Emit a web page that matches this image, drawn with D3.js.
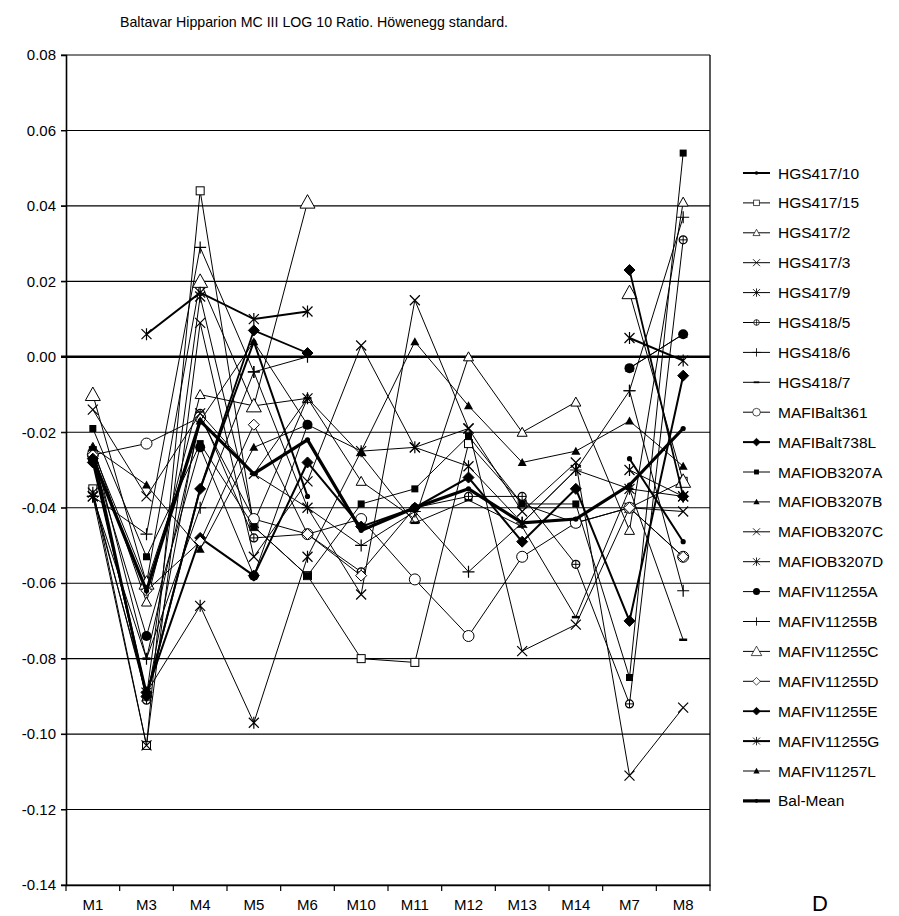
<!DOCTYPE html>
<html>
<head>
<meta charset="utf-8">
<script src="https://cdn.jsdelivr.net/npm/d3@7"></script>
<style>
  body { margin: 0; background: #fff; }
  text { font-family: "Liberation Sans", Arial, sans-serif; fill: #000; }
</style>
</head>
<body>
<svg width="899" height="916"></svg>
<script>
var categories = ["M1", "M3", "M4", "M5", "M6", "M10", "M11", "M12", "M13", "M14", "M7", "M8"];
var yTicks = [0.08, 0.06, 0.04, 0.02, 0.00, -0.02, -0.04, -0.06, -0.08, -0.10, -0.12, -0.14];

var names = ["HGS417/10", "HGS417/15", "HGS417/2", "HGS417/3", "HGS417/9", "HGS418/5", "HGS418/6", "HGS418/7",
  "MAFIBalt361", "MAFIBalt738L", "MAFIOB3207A", "MAFIOB3207B", "MAFIOB3207C", "MAFIOB3207D",
  "MAFIV11255A", "MAFIV11255B", "MAFIV11255C", "MAFIV11255D", "MAFIV11255E", "MAFIV11255G", "MAFIV11257L", "Bal-Mean"];

var HGS417_10 = [-0.025, -0.090, -0.035, 0.004, -0.037, null, null, null, null, null, -0.027, -0.049];
var HGS417_15 = [-0.035, -0.103, 0.044, -0.045, -0.058, -0.080, -0.081, -0.023, -0.039, -0.044, -0.040, -0.033];
var HGS417_2 = [-0.024, -0.065, -0.010, -0.013, -0.011, -0.033, -0.043, 0.000, -0.020, -0.012, -0.046, 0.041];
var HGS417_3 = [-0.037, -0.103, 0.009, -0.053, -0.033, 0.003, -0.024, -0.019, -0.078, -0.071, -0.040, -0.041];
var HGS417_9 = [-0.036, -0.090, 0.016, -0.044, -0.011, null, null, null, null, null, -0.030, -0.037];
var HGS418_5 = [-0.027, -0.091, -0.015, -0.048, -0.047, -0.057, -0.040, -0.037, -0.037, -0.055, -0.092, 0.031];
var HGS418_6 = [-0.037, -0.047, 0.029, -0.004, 0.000, null, null, null, null, null, -0.009, 0.037];
var HGS418_7 = [-0.024, -0.080, -0.017, -0.031, -0.011, -0.026, -0.044, -0.038, -0.045, -0.069, -0.035, -0.075];
var MAFIBalt361 = [-0.026, -0.023, -0.016, -0.043, -0.047, -0.043, -0.059, -0.074, -0.053, -0.044, -0.040, -0.053];
var MAFIBalt738L = [-0.028, -0.089, -0.048, -0.058, -0.028, -0.045, -0.040, -0.032, -0.049, -0.035, -0.070, -0.005];
var MAFIOB3207A = [-0.019, -0.053, -0.023, -0.045, -0.058, -0.039, -0.035, -0.021, -0.039, -0.039, -0.085, 0.054];
var MAFIOB3207B = [-0.025, -0.060, -0.017, 0.004, -0.018, null, null, null, null, null, -0.003, 0.006];
var MAFIOB3207C = [-0.014, -0.037, -0.015, -0.031, -0.040, -0.063, 0.015, -0.019, -0.041, -0.028, -0.111, -0.093];
var MAFIOB3207D = [-0.037, -0.089, -0.066, -0.097, -0.053, -0.025, -0.024, -0.029, -0.044, -0.030, -0.035, -0.037];
var MAFIV11255A = [-0.027, -0.074, -0.024, -0.058, -0.018, null, null, null, null, null, -0.003, 0.006];
var MAFIV11255B = [-0.037, -0.080, -0.040, -0.004, -0.040, -0.050, -0.041, -0.057, -0.044, -0.030, -0.009, -0.062];
var MAFIV11255C = [-0.010, -0.060, 0.020, -0.013, 0.041, null, null, null, null, null, 0.017, -0.033];
var MAFIV11255D = [-0.026, -0.062, -0.049, -0.018, -0.047, -0.058, null, null, null, null, -0.040, -0.053];
var MAFIV11255E = [-0.027, -0.090, -0.035, 0.007, 0.001, null, null, null, null, null, 0.023, -0.037];
var MAFIV11255G = [null, 0.006, 0.017, 0.010, 0.012, null, null, null, null, null, 0.005, -0.001];
var MAFIV11257L = [-0.024, -0.034, -0.051, -0.024, -0.018, -0.025, 0.004, -0.013, -0.028, -0.025, -0.017, -0.029];
var BalMean = [-0.027, -0.062, -0.017, -0.031, -0.022, -0.046, -0.040, -0.035, -0.044, -0.043, -0.034, -0.019];

var values = [HGS417_10, HGS417_15, HGS417_2, HGS417_3, HGS417_9, HGS418_5, HGS418_6, HGS418_7,
  MAFIBalt361, MAFIBalt738L, MAFIOB3207A, MAFIOB3207B, MAFIOB3207C, MAFIOB3207D,
  MAFIV11255A, MAFIV11255B, MAFIV11255C, MAFIV11255D, MAFIV11255E, MAFIV11255G, MAFIV11257L, BalMean];

// marker style and line width per series
var markers = ["dot", "osq", "otri", "x", "ast", "cplus", "plus", "dash",
  "ocirc", "fdia", "fsq", "ftri", "x", "ast",
  "fcirc", "plus", "otriL", "odia", "fdia", "ast", "ftri", "dot"];
var widths = [2, 1, 1, 1, 1, 1, 1, 1, 1, 2, 1, 1, 1, 1, 1, 1, 1, 1, 1.8, 2, 1, 3.2];

var svg = d3.select("svg");
var plotLeft = 66, plotRight = 710, plotTop = 55, plotBottom = 885;

var x = d3.scaleBand().domain(categories).range([plotLeft, plotRight]);
var y = d3.scaleLinear().domain([-0.14, 0.08]).range([plotBottom, plotTop]);
var cx = function(c) { return x(c) + x.bandwidth() / 2; };

// title
svg.append("text")
  .attr("x", 120).attr("y", 27)
  .attr("font-size", 14.2)
  .text("Baltavar Hipparion MC III LOG 10 Ratio. Höwenegg standard.");

// gridlines
svg.append("g").selectAll("line")
  .data(yTicks)
  .enter().append("line")
  .attr("x1", plotLeft - 5).attr("x2", plotRight)
  .attr("y1", function(d) { return y(d); })
  .attr("y2", function(d) { return y(d); })
  .attr("stroke", "#000")
  .attr("stroke-width", function(d) { return d == 0 ? 2.6 : 1.1; });

// y axis
var yAxis = svg.append("g")
  .attr("transform", "translate(" + plotLeft + ",0)")
  .call(d3.axisLeft(y).tickValues(yTicks).tickSize(5).tickPadding(5)
    .tickFormat(function(d) { return d3.format(".2f")(d).replace("−", "-"); }));
yAxis.select(".domain").attr("stroke-width", 1.6);
yAxis.selectAll("text").attr("font-size", 15).attr("font-family", "Liberation Sans, Arial, sans-serif");

// right border
svg.append("line")
  .attr("x1", plotRight).attr("x2", plotRight).attr("y1", plotTop).attr("y2", plotBottom)
  .attr("stroke", "#000").attr("stroke-width", 1.3);

// x axis with ticks at category boundaries
var xAxis = svg.append("g")
  .attr("transform", "translate(0," + plotBottom + ")")
  .call(d3.axisBottom(x).tickSize(0).tickPadding(14));
xAxis.select(".domain").attr("stroke-width", 1.6);
xAxis.selectAll("text").attr("font-size", 15).attr("font-family", "Liberation Sans, Arial, sans-serif");
svg.append("g").selectAll("line")
  .data(categories.map(function(c) { return x(c); }).concat([plotRight]))
  .enter().append("line")
  .attr("x1", function(d) { return d; }).attr("x2", function(d) { return d; })
  .attr("y1", plotBottom).attr("y2", plotBottom + 6)
  .attr("stroke", "#000").attr("stroke-width", 1.2);

// markers drawn around (0,0); caller positions them
function drawMarker(g, type) {
  if (type == "dot") {
    g.append("circle").attr("r", 2.6).attr("fill", "#000");
  } else if (type == "osq") {
    g.append("rect").attr("x", -4).attr("y", -4).attr("width", 8).attr("height", 8)
      .attr("fill", "#fff").attr("stroke", "#000").attr("stroke-width", 1);
  } else if (type == "fsq") {
    g.append("rect").attr("x", -3.5).attr("y", -3.5).attr("width", 7).attr("height", 7).attr("fill", "#000");
  } else if (type == "otri" || type == "otriL") {
    var s = type == "otriL" ? 7.5 : 5;
    g.append("path").attr("d", "M0," + (-s) + "L" + s + "," + (s * 0.8) + "L" + (-s) + "," + (s * 0.8) + "Z")
      .attr("fill", "#fff").attr("stroke", "#000").attr("stroke-width", 1);
  } else if (type == "ftri") {
    g.append("path").attr("d", "M0,-4.5L4.5,3.5L-4.5,3.5Z").attr("fill", "#000");
  } else if (type == "x") {
    g.append("path").attr("d", "M-5,-5L5,5M-5,5L5,-5")
      .attr("stroke", "#000").attr("stroke-width", 1.2);
  } else if (type == "ast") {
    g.append("path").attr("d", "M-5,-5L5,5M-5,5L5,-5M0,-6V6")
      .attr("stroke", "#000").attr("stroke-width", 1.2);
  } else if (type == "plus") {
    g.append("path").attr("d", "M-6,0H6M0,-6V6")
      .attr("stroke", "#000").attr("stroke-width", 1.2);
  } else if (type == "dash") {
    g.append("path").attr("d", "M-4,0H4")
      .attr("stroke", "#000").attr("stroke-width", 2.5);
  } else if (type == "cplus") {
    g.append("circle").attr("r", 4).attr("fill", "#fff").attr("stroke", "#000").attr("stroke-width", 1.2);
    g.append("path").attr("d", "M-4,0H4M0,-4V4")
      .attr("stroke", "#000").attr("stroke-width", 1);
  } else if (type == "ocirc") {
    g.append("circle").attr("r", 5.5).attr("fill", "#fff").attr("stroke", "#000").attr("stroke-width", 1);
  } else if (type == "fcirc") {
    g.append("circle").attr("r", 5).attr("fill", "#000");
  } else if (type == "odia" || type == "fdia") {
    g.append("path").attr("d", "M0,-5.5L5.5,0L0,5.5L-5.5,0Z")
      .attr("fill", type == "fdia" ? "#000" : "#fff").attr("stroke", "#000").attr("stroke-width", 1);
  }
}

var line = d3.line()
  .defined(function(d) { return d.v != null; })
  .x(function(d) { return cx(d.c); })
  .y(function(d) { return y(d.v); });

var plot = svg.append("g");
names.forEach(function(name, i) {
  var pts = categories.map(function(c, j) { return { c: c, v: values[i][j] }; });
  var g = plot.append("g").attr("class", "series");
  g.append("path")
    .attr("d", line(pts))
    .attr("fill", "none")
    .attr("stroke", "#000")
    .attr("stroke-width", widths[i]);
  pts.forEach(function(p) {
    if (p.v != null) {
      drawMarker(g.append("g").attr("transform", "translate(" + cx(p.c) + "," + y(p.v) + ")"), markers[i]);
    }
  });
});

// legend
var legend = svg.append("g").attr("class", "legend");
names.forEach(function(name, i) {
  var ly = 173 + i * 29.9;
  legend.append("line")
    .attr("x1", 743).attr("x2", 770).attr("y1", ly).attr("y2", ly)
    .attr("stroke", "#000").attr("stroke-width", widths[i]);
  drawMarker(legend.append("g").attr("transform", "translate(756.5," + ly + ") scale(0.7)"), markers[i]);
  legend.append("text")
    .attr("x", 778).attr("y", ly + 5.5)
    .attr("font-size", 15.5)
    .text(name);
});

svg.append("text")
  .attr("x", 812).attr("y", 911)
  .attr("font-size", 22)
  .text("D");
</script>
</body>
</html>
